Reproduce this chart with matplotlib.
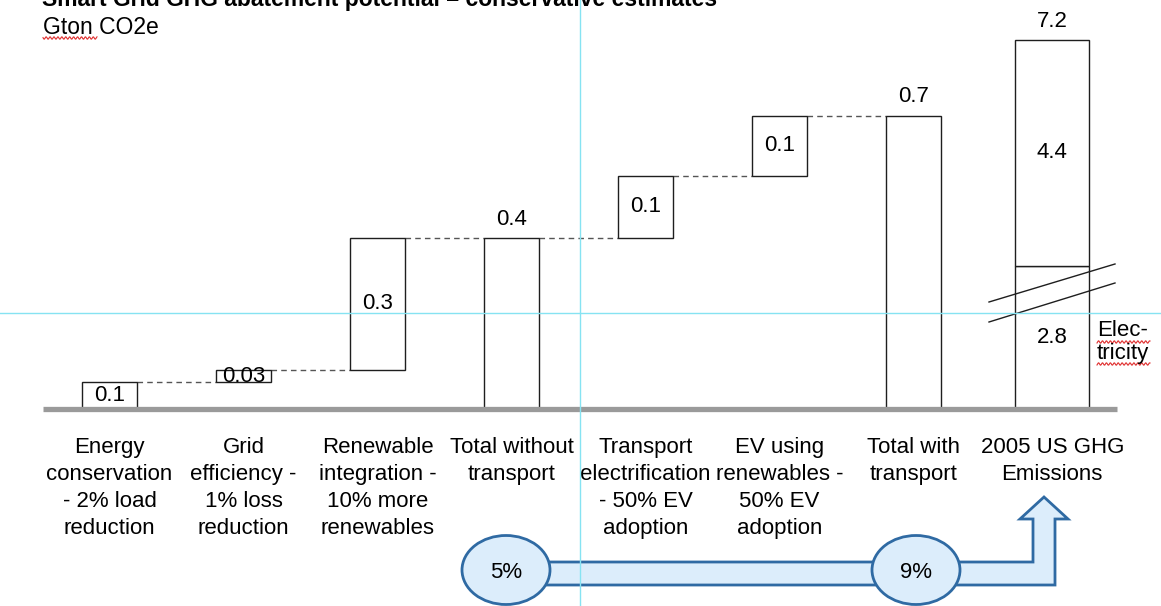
import matplotlib
matplotlib.use("Agg")
import matplotlib.pyplot as plt
import numpy as np
from matplotlib.patches import Ellipse, Polygon

plt.rcParams["font.family"] = ["Liberation Sans", "DejaVu Sans"]

# --- data -------------------------------------------------------------
categories = [
    "Energy\nconservation\n- 2% load\nreduction",
    "Grid\nefficiency -\n1% loss\nreduction",
    "Renewable\nintegration -\n10% more\nrenewables",
    "Total without\ntransport",
    "Transport\nelectrification\n- 50% EV\nadoption",
    "EV using\nrenewables -\n50% EV\nadoption",
    "Total with\ntransport",
    "2005 US GHG\nEmissions",
]
# waterfall steps (Gton CO2e); None marks a subtotal bar
steps = [0.064, 0.029, 0.314, None, 0.148, 0.143, None]
step_labels = ["0.1", "0.03", "0.3", "0.4", "0.1", "0.1", "0.7"]
# 2005 US emissions, drawn on a compressed (broken) scale
us_segments = [2.8, 4.4]
us_segment_labels = ["2.8", "4.4"]
us_total_label = "7.2"
us_scale = 0.122
circle_labels = ["5%", "9%"]

# --- layout -----------------------------------------------------------
W, H = 1161, 606
fig = plt.figure(figsize=(W / 100, H / 100), dpi=100)
ax = fig.add_axes([0, 0, 1, 1])
px_per_cat, x0 = 134.0, 109.5
px_per_unit, y0 = 420.0, 409.0
ax.set_xlim(-x0 / px_per_cat, (W - x0) / px_per_cat)
ax.set_ylim(-(H - y0) / px_per_unit, y0 / px_per_unit)
ax.axis("off")

edge = "#1e1e1e"
bw = 0.41
fs = 16
above = 19 / px_per_unit

# waterfall bars
level = 0.0
tops = []
for i, (s, lab) in enumerate(zip(steps, step_labels)):
    if s is None:
        ax.bar(i, level, bw, bottom=0, facecolor="white", edgecolor=edge, lw=1.0, zorder=3)
        ax.text(i, level + above, lab, ha="center", va="center", fontsize=fs)
        tops.append((i, level))
    else:
        ax.bar(i, s, bw, bottom=level, facecolor="white", edgecolor=edge, lw=1.0, zorder=3)
        ax.text(i, level + s / 2, lab, ha="center", va="center", fontsize=fs, zorder=4)
        level += s
        tops.append((i, level))

# dashed connectors
for (i, lv), (j, _) in zip(tops[:-1], tops[1:]):
    ax.plot([i + bw / 2, j - bw / 2], [lv, lv], ls=(0, (4, 3)), color="#555555",
            lw=1.0, zorder=2)

# broken US bar
xu = len(steps) + 0.035
wu = 0.55
bottom = 0.0
for seg, lab in zip(us_segments, us_segment_labels):
    h = seg * us_scale
    ax.bar(xu, h, wu, bottom=bottom, facecolor="white", edgecolor=edge, lw=1.0, zorder=3)
    ax.text(xu, bottom + h / 2, lab, ha="center", va="center", fontsize=fs, zorder=4)
    bottom += h
ax.text(xu, bottom + above, us_total_label, ha="center", va="center", fontsize=fs)

# baseline
ax.plot([-0.495, 7.52], [0, 0], color="#9a9a9a", lw=3.8, solid_capstyle="butt", zorder=5)

# category labels
for i, lab in enumerate(categories):
    x = xu if i == len(categories) - 1 else i
    ax.text(x, -28 / px_per_unit, lab, ha="center", va="top", fontsize=fs,
            linespacing=1.37)

# --- overlay in pixel coordinates ------------------------------------
ov = fig.add_axes([0, 0, 1, 1])
ov.set_xlim(0, W)
ov.set_ylim(H, 0)
ov.axis("off")
ov.patch.set_alpha(0)

ov.text(42, 6, "Smart Grid GHG abatement potential \u2013 conservative estimates",
        fontsize=16.5, fontweight="bold", ha="left", va="baseline")
ov.text(43, 27, "Gton CO2e", fontsize=16.5, ha="left", va="center")
ov.text(1097, 331, "Elec-", fontsize=16, ha="left", va="center")
ov.text(1097, 353, "tricity", fontsize=16, ha="left", va="center")


def squiggle(xa, xb, y):
    xs = np.linspace(xa, xb, int((xb - xa) * 2))
    ov.plot(xs, y + 1.2 * np.sin(xs * 1.6), color="#e03030", lw=0.8)


squiggle(43, 97, 38)
squiggle(1097, 1150, 342)
squiggle(1097, 1150, 364)

# axis-break slashes
ov.plot([989, 1115], [302, 264], color=edge, lw=1.0, zorder=6)
ov.plot([989, 1115], [322, 283], color=edge, lw=1.0, zorder=6)

# bottom arrow
fill, line = "#dcedfb", "#2f6aa3"
arrow = Polygon([(540, 562), (1033, 562), (1033, 519), (1020, 519), (1044, 497),
                 (1068, 519), (1055, 519), (1055, 585), (540, 585)],
                closed=True, facecolor=fill, edgecolor=line, lw=2.0, zorder=3)
ov.add_patch(arrow)
for cx, lab in zip([506, 916], circle_labels):
    ov.add_patch(Ellipse((cx, 570), 88, 69, facecolor=fill, edgecolor=line, lw=2.0, zorder=4))
    ov.text(cx, 573, lab, ha="center", va="center", fontsize=fs, zorder=5)

# guide lines
ov.axvline(580, color="#86e3f2", lw=1.0, zorder=10)
ov.axhline(313, color="#86e3f2", lw=1.0, zorder=10)

fig.savefig("out.png", dpi=100)
